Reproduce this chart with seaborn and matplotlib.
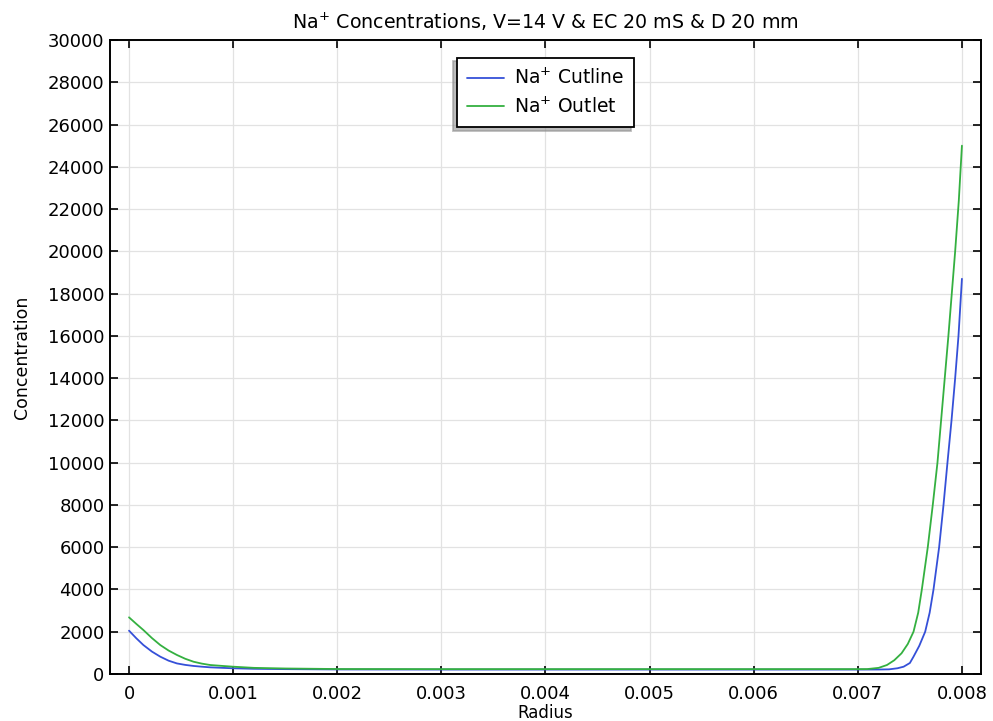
import numpy as np
import pandas as pd
import matplotlib
matplotlib.use("Agg")
import matplotlib.pyplot as plt
import seaborn as sns

# ── Data ───────────────────────────────────────────────────────
cutline_radius = [0, 0.00007, 0.000138, 0.00022, 0.0003, 0.00038, 0.00046, 0.00054,
                  0.00062, 0.0007, 0.00078, 0.0009, 0.001, 0.0012, 0.0015,
                  0.002, 0.003, 0.004, 0.005, 0.006, 0.0070, 0.0072, 0.0073,
                  0.00738, 0.00744, 0.0075, 0.007535, 0.00759, 0.007647, 0.00769,
                  0.007727, 0.007781, 0.007823, 0.007861, 0.0079, 0.007935,
                  0.007967, 0.008]
cutline_conc = [2050, 1690, 1370, 1060, 820, 630, 500, 430,
                380, 345, 315, 290, 270, 245, 230,
                215, 210, 210, 210, 210, 210, 212, 220,
                270, 345, 520, 820, 1330, 2000, 2900,
                4000, 6000, 8000, 10000, 12000, 14000,
                16000, 18700]

outlet_radius = [0, 0.00007, 0.000138, 0.00022, 0.0003, 0.00038, 0.00046, 0.00054,
                 0.00062, 0.0007, 0.00078, 0.0009, 0.001, 0.0012, 0.0015,
                 0.002, 0.003, 0.004, 0.005, 0.006, 0.0070, 0.00709, 0.0072,
                 0.00728, 0.00735, 0.00742, 0.00748, 0.007535, 0.00758, 0.007615,
                 0.007672, 0.00772, 0.007765, 0.0078, 0.007835, 0.00787,
                 0.007935, 0.00797, 0.008]
outlet_conc = [2680, 2370, 2080, 1700, 1370, 1110, 900, 720,
               580, 490, 425, 380, 345, 290, 260,
               235, 230, 230, 230, 230, 230, 232, 290,
               425, 650, 980, 1420, 2000, 2900, 4000,
               6000, 8000, 10000, 12000, 14000, 16000,
               20000, 22400, 25000]

x_ticks = [0, 0.001, 0.002, 0.003, 0.004, 0.005, 0.006, 0.007, 0.008]
x_tick_labels = ["0", "0.001", "0.002", "0.003", "0.004", "0.005", "0.006", "0.007", "0.008"]
y_ticks = list(range(0, 30001, 2000))

# ── Style ──────────────────────────────────────────────────────
sns.set_style("ticks")
plt.rcParams["font.family"] = ["DejaVu Sans"]
plt.rcParams["text.color"] = "black"
plt.rcParams["axes.labelcolor"] = "black"

fig = plt.figure(figsize=(9.93, 7.21), dpi=100)
ax = fig.add_axes([0.1108, 0.0652, 0.8772, 0.8793])

cut_df = pd.DataFrame({"Radius": cutline_radius, "Concentration": cutline_conc})
out_df = pd.DataFrame({"Radius": outlet_radius, "Concentration": outlet_conc})

sns.lineplot(data=cut_df, x="Radius", y="Concentration", ax=ax,
             color="#3550d8", linewidth=1.3, label=r"Na$^{+}$ Cutline")
sns.lineplot(data=out_df, x="Radius", y="Concentration", ax=ax,
             color="#34b040", linewidth=1.3, label=r"Na$^{+}$ Outlet")

ax.set_xlim(-0.0001825, 0.008184)
ax.set_ylim(0, 30000)
ax.set_xticks(x_ticks)
ax.set_xticklabels(x_tick_labels)
ax.set_yticks(y_ticks)

ax.grid(True, color="#e2e2e2", linewidth=0.9)
ax.set_axisbelow(True)

for side in ax.spines.values():
    side.set_color("black")
    side.set_linewidth(1.4)

ax.tick_params(axis="both", which="major", direction="in", length=6, width=1.2,
               top=True, right=True, labelsize=13, colors="black")
ax.tick_params(axis="x", pad=8)
ax.tick_params(axis="y", pad=4)

ax.set_title(r"Na$^{+}$ Concentrations, V=14 V & EC 20 mS & D 20 mm",
             fontsize=13.7, pad=8, color="black")
ax.set_xlabel("Radius", fontsize=12)
ax.xaxis.set_label_coords(0.5, -0.048)
ax.set_ylabel("Concentration", fontsize=12.5)
ax.yaxis.set_label_coords(-0.091, 0.5)

leg = ax.legend(loc="upper center", bbox_to_anchor=(0.5, 0.9716), fontsize=13.5,
                frameon=True, fancybox=False, edgecolor="black", framealpha=1,
                shadow={"ox": -2.5, "oy": -2.5, "color": "#909090", "alpha": 0.6},
                borderaxespad=0, handlelength=2.0, handletextpad=0.5,
                borderpad=0.55, labelspacing=0.45)
leg.get_frame().set_linewidth(1.3)
for txt in leg.get_texts():
    txt.set_color("black")

fig.savefig("out.png", dpi=100)
plt.close(fig)
